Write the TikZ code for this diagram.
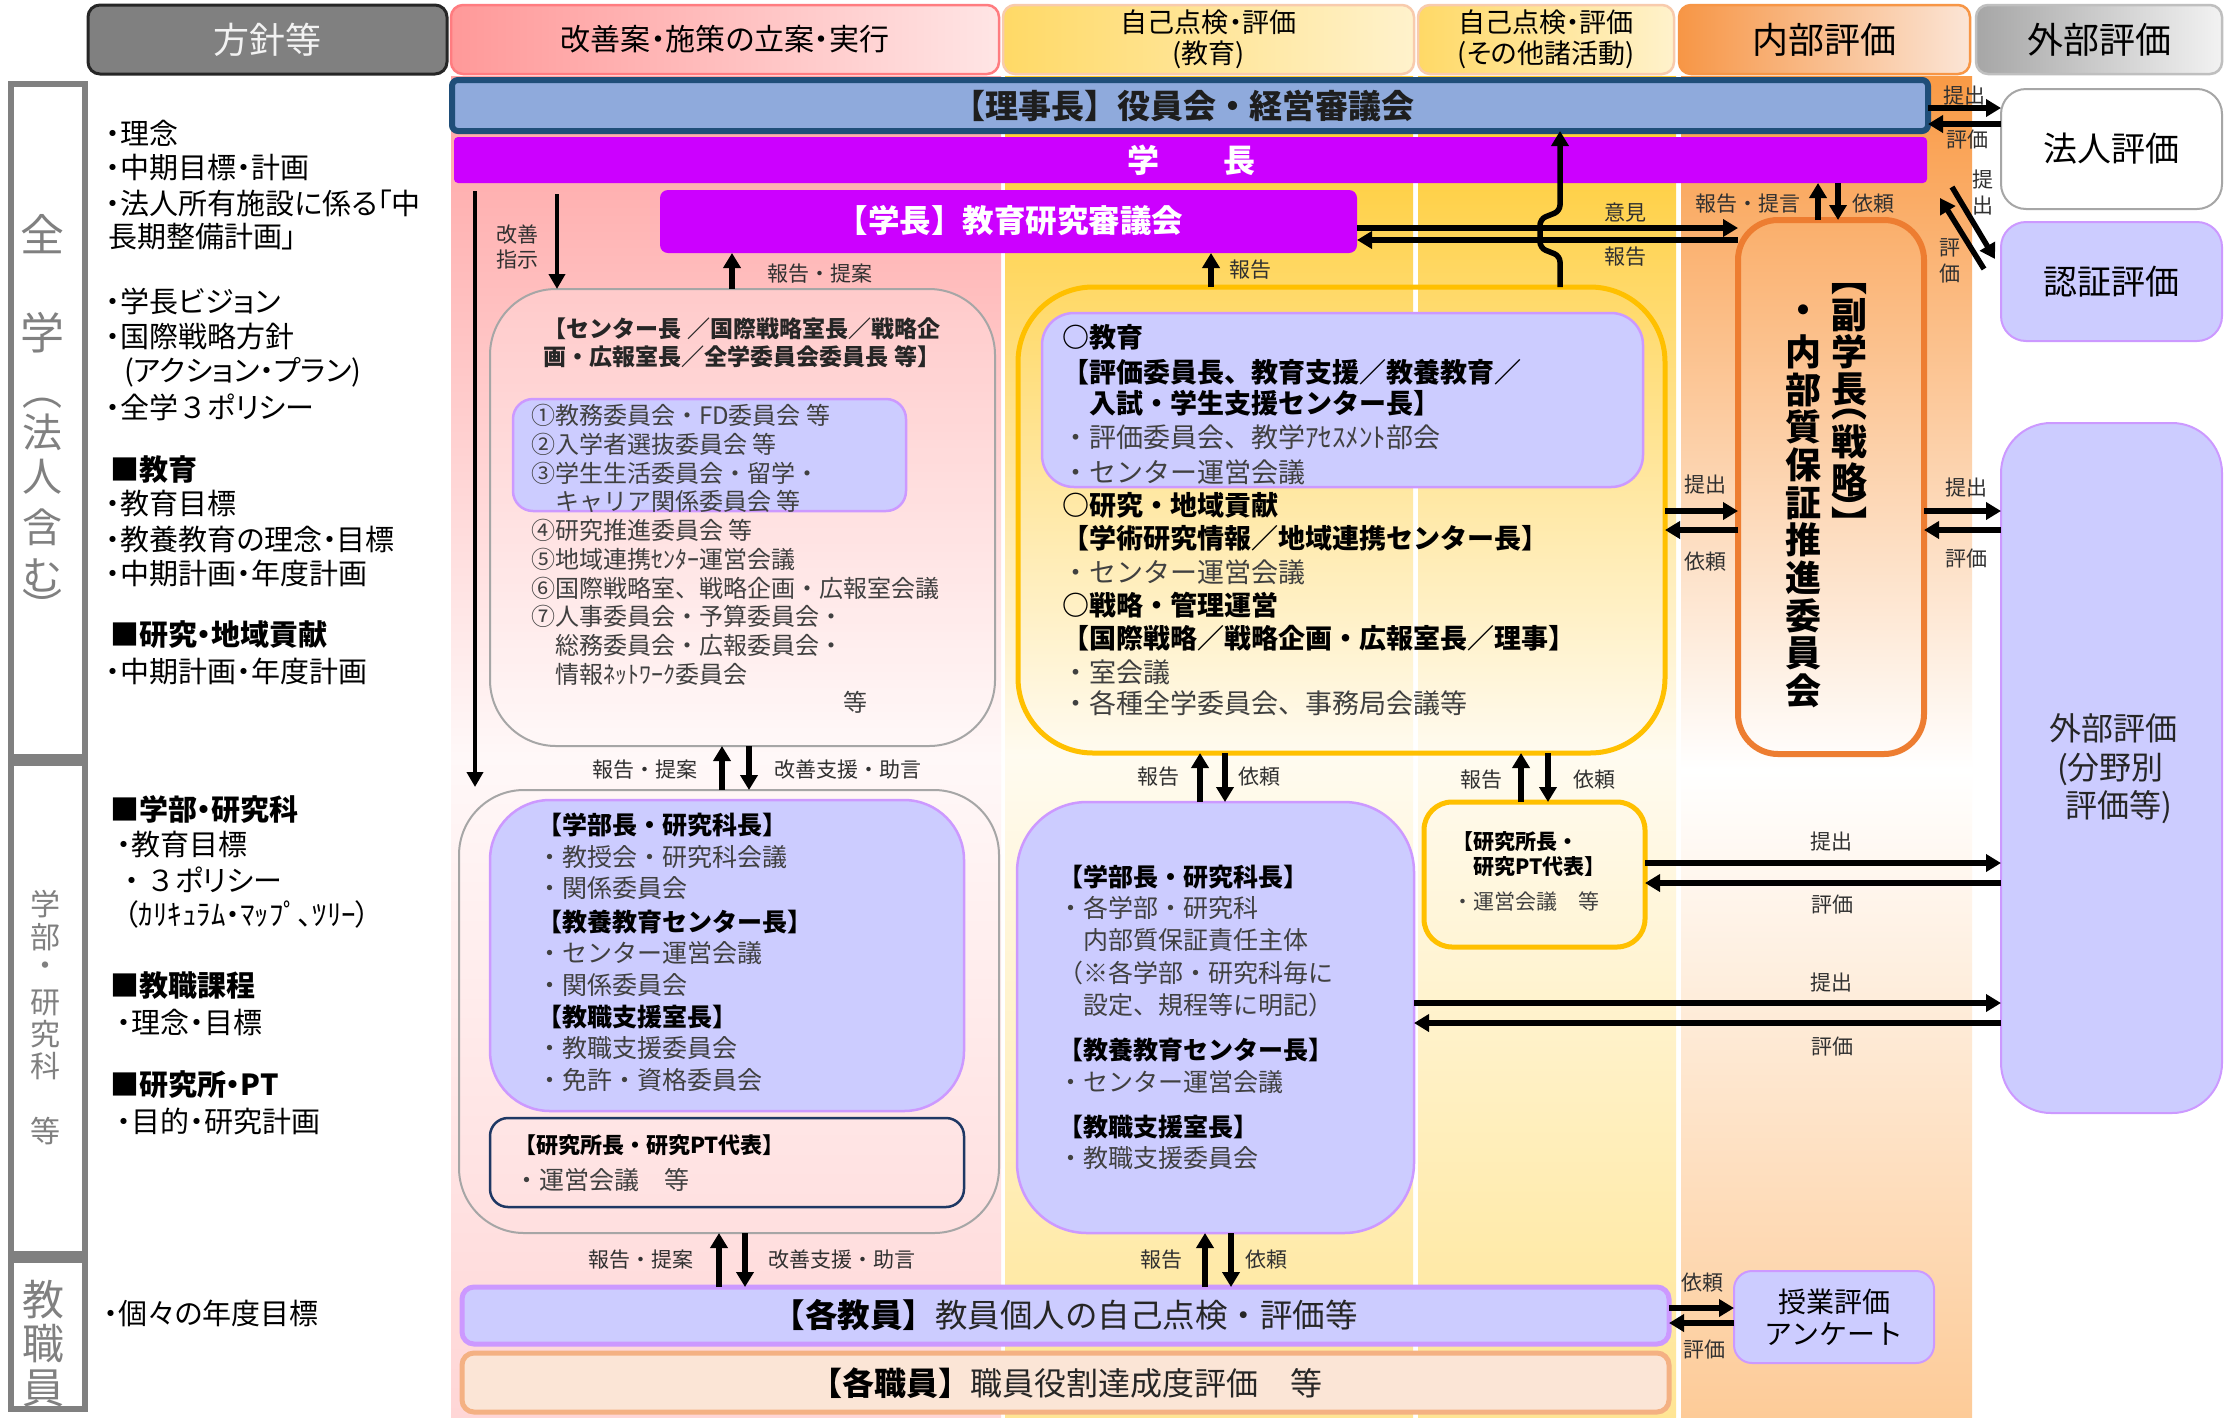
\documentclass[tikz,border=0pt]{standalone}
\usepackage{fontspec}
\setmainfont{Noto Sans CJK JP}
\newfontfamily\pfont[RawFeature=+palt]{Noto Sans CJK JP}
\usetikzlibrary{arrows.meta}
\newcommand\fsz[2]{\fontsize{#1}{#2}\selectfont}
\definecolor{purp}{HTML}{CC00FF}
\definecolor{lblue}{HTML}{CCCCFF}
\definecolor{lbord}{HTML}{CC99FF}
\definecolor{navy}{HTML}{1F4E79}
\definecolor{rijif}{HTML}{8FAADC}
\definecolor{gold}{HTML}{FFC000}
\definecolor{oran}{HTML}{ED7D31}
\definecolor{txtg}{HTML}{404040}
\definecolor{labg}{HTML}{303030}
\definecolor{sidegray}{HTML}{808080}
\definecolor{boxgray}{HTML}{A6A6A6}
\begin{document}
\begin{tikzpicture}[x=1pt,y=-1pt,
  every node/.style={inner sep=0pt, outer sep=0pt},
  bx/.style={anchor=north west, rounded corners=#1},
  bx/.default=10pt,
  arr/.style={line width=5.5pt, -{Triangle[length=15pt,width=17pt]}},
  arrthin/.style={line width=4.5pt, -{Triangle[length=15pt,width=16pt]}},
  lab/.style={font=\fsz{21}{24}, text=labg},
  ln/.style={anchor=west, text=txtg},
  lc/.style={anchor=west, text=black, font=\pfont\fsz{29}{34}},
  vt/.style={text=sidegray},
  vf/.style={text=black, font=\bfseries\fsz{36}{36}},
]
\useasboundingbox (0,0) rectangle (2224,1417);
\fill[white] (0,0) rectangle (2224,1417);

% ---------- column backgrounds ----------
\shade[top color={rgb,255:red,255;green,163;blue,163}, bottom color={rgb,255:red,255;green,248;blue,248}] (451,76) rectangle (1001,755);
\shade[top color={rgb,255:red,255;green,248;blue,248}, bottom color={rgb,255:red,255;green,214;blue,214}] (451,755) rectangle (1001,1417);
\shade[top color={rgb,255:red,255;green,201;blue,41}, bottom color={rgb,255:red,255;green,251;blue,240}] (1005,76) rectangle (1413,755);
\shade[top color={rgb,255:red,255;green,251;blue,240}, bottom color={rgb,255:red,255;green,229;blue,148}] (1005,755) rectangle (1413,1417);
\shade[top color={rgb,255:red,255;green,201;blue,41}, bottom color={rgb,255:red,255;green,251;blue,240}] (1418,76) rectangle (1676,755);
\shade[top color={rgb,255:red,255;green,251;blue,240}, bottom color={rgb,255:red,255;green,229;blue,148}] (1418,755) rectangle (1676,1417);
\shade[top color={rgb,255:red,249;green,154;blue,69}, bottom color=white] (1681,76) rectangle (1972,770);
\shade[top color=white, bottom color={rgb,255:red,253;green,203;blue,152}] (1681,770) rectangle (1972,1417);

% ---------- headers ----------
\node[bx=12pt, minimum width=359pt, minimum height=69pt, fill=sidegray, draw={rgb,255:red,38;green,38;blue,38}, line width=3pt, text={rgb,255:red,242;green,242;blue,242}, font=\pfont\fsz{36}{40}] (h1) at (88,5) {方針等};
\node[bx=12pt, minimum width=548pt, minimum height=69pt, left color={rgb,255:red,255;green,153;blue,153}, right color={rgb,255:red,255;green,229;blue,229}, draw={rgb,255:red,255;green,124;blue,128}, line width=2.5pt, font=\pfont\fsz{30}{34}] (h2) at (451,5) {改善案・施策の立案・実行};
\node[bx=12pt, minimum width=411pt, minimum height=69pt, left color={rgb,255:red,255;green,217;blue,102}, right color={rgb,255:red,255;green,242;blue,204}, draw={rgb,255:red,248;green,203;blue,173}, line width=2.5pt, align=center, font=\pfont\fsz{27}{31}] (h3) at (1003,5) {自己点検・評価\\(教育)};
\node[bx=12pt, minimum width=256pt, minimum height=69pt, left color={rgb,255:red,255;green,217;blue,102}, right color={rgb,255:red,255;green,242;blue,204}, draw={rgb,255:red,248;green,203;blue,173}, line width=2.5pt, align=center, font=\pfont\fsz{27}{31}] (h4) at (1418,5) {自己点検・評価\\(その他諸活動)};
\node[bx=12pt, minimum width=291pt, minimum height=69pt, left color={rgb,255:red,247;green,150;blue,70}, right color={rgb,255:red,251;green,229;blue,214}, draw={rgb,255:red,247;green,150;blue,70}, line width=2.5pt, font=\pfont\fsz{36}{40}] (h5) at (1679,5) {内部評価};
\node[bx=12pt, minimum width=246pt, minimum height=69pt, left color=boxgray, right color={rgb,255:red,242;green,242;blue,242}, draw={rgb,255:red,191;green,191;blue,191}, line width=2.5pt, font=\pfont\fsz{36}{40}] (h6) at (1976,5) {外部評価};

% ---------- side boxes ----------
\node[bx=0pt, minimum width=74pt, minimum height=673pt, draw=sidegray, line width=6pt] (sb1) at (11,84) {};
\node[bx=0pt, minimum width=74pt, minimum height=491pt, draw=sidegray, line width=6pt] (sb2) at (11,763) {};
\node[bx=0pt, minimum width=74pt, minimum height=149pt, draw=sidegray, line width=6pt] (sb3) at (11,1260) {};
\foreach \yy/\ch/\sz [count=\i] in {234/全/44, 333/学/44, 403/︵/40, 432/法/40, 477/人/40, 527/含/40, 575/む/40, 606/︶/40}
  \node[vt, font=\fsz{\sz}{\sz}] (va\i) at (42,\yy) {\ch};
\foreach \yy/\ch [count=\i] in {904/学, 937/部, 969/・, 1003/研, 1034/究, 1066/科, 1131/等}
  \node[vt, font=\fsz{30}{30}] (vb\i) at (45,\yy) {\ch};
\foreach \yy/\ch [count=\i] in {1300/教, 1344/職, 1388/員}
  \node[vt, font=\fsz{42}{42}] (vc\i) at (43,\yy) {\ch};

% ---------- left policy column ----------
\foreach \xx/\yy/\tx [count=\i] in {
  106/133/{・理念}, 106/168/{・中期目標・計画}, 106/203/{・法人所有施設に係る「中},
  108/237/{長期整備計画」}, 106/301/{・学長ビジョン}, 106/336/{・国際戦略方針},
  124/372/{(アクション・プラン)}, 106/407/{・全学{\rmfamily ３}ポリシー},
  110/470/{\bfseries ■教育}, 106/503/{・教育目標}, 106/539/{・教養教育の理念・目標},
  106/573/{・中期計画・年度計画}, 110/635/{\bfseries ■研究・地域貢献},
  106/671/{・中期計画・年度計画}, 110/810/{\bfseries ■学部・研究科},
  117/844/{・教育目標}, 117/880/{{\rmfamily ・３}ポリシー}, 124/914/{（ｶﾘｷｭﾗﾑ・ﾏｯﾌﾟ、ﾂﾘｰ）},
  110/986/{\bfseries ■教職課程}, 117/1022/{・理念・目標}, 110/1085/{\bfseries ■研究所・PT},
  117/1121/{・目的・研究計画}, 104/1313/{・個々の年度目標}}
  \node[lc] (lc\i) at (\xx,\yy) {\tx};

% ---------- bars ----------
\node[bx=6pt, minimum width=1476pt, minimum height=51pt, fill=rijif, draw=navy, line width=6pt] (riji) at (452,80) {};
\node[font=\bfseries\fsz{33}{36}, text={rgb,255:red,30;green,30;blue,30}] (rijit) at (1183,106) {【理事長】役員会・経営審議会};
\node[bx=4pt, minimum width=1473pt, minimum height=46pt, fill=purp] (gakucho) at (454,137) {};
\node[font=\bfseries\fsz{32}{36}, text=white] (gakuchot) at (1191,160) {学　　長};
\node[bx=8pt, minimum width=697pt, minimum height=63pt, fill=purp] (council) at (660,190) {};
\node[font=\bfseries\fsz{31.5}{36}, text=white] (councilt) at (1010,221) {【学長】教育研究審議会};

% ---------- centre-left (all-campus) box ----------
\node[bx=66pt, minimum width=505pt, minimum height=457pt, draw=boxgray, line width=2pt, fill=white, fill opacity=0.2] (zen) at (490,289) {};
\node[font=\bfseries\fsz{23}{28}, text={rgb,255:red,38;green,38;blue,38}, align=center] (zenh) at (742,343) {【センター長 ／国際戦略室長／戦略企\\画・広報室長／全学委員会委員長 等】};
\node[bx=20pt, minimum width=393pt, minimum height=112pt, fill=lblue, draw=lbord, line width=2.5pt] (zenblue) at (513,399) {};
\foreach \yy/\tx [count=\i] in {415/{①教務委員会・FD委員会 等}, 444/{②入学者選抜委員会 等},
  473/{③学生生活委員会・留学・}, 501/{　キャリア関係委員会 等}, 530/{④研究推進委員会 等},
  559/{⑤地域連携ｾﾝﾀｰ運営会議}, 588/{⑥国際戦略室、戦略企画・広報室会議},
  616/{⑦人事委員会・予算委員会・}, 645/{　総務委員会・広報委員会・}, 674/{　情報ﾈｯﾄﾜｰｸ委員会}}
  \node[ln, font=\fsz{24}{28}] (zl\i) at (531,\yy) {\tx};
\node[text=txtg, font=\fsz{24}{28}] (zetc) at (855,702) {等};

% ---------- yellow (education) box ----------
\node[bx=75pt, minimum width=647pt, minimum height=466pt, draw=gold, line width=5pt] (edu) at (1018,287) {};
\node[bx=32pt, minimum width=601pt, minimum height=174pt, fill=lblue, draw=lbord, line width=2.5pt] (edublue) at (1042,313) {};
\foreach \yy/\tx [count=\i] in {337/{\bfseries\color{black}○教育},
  372/{\bfseries\color{black}【評価委員長、教育支援／教養教育／},
  403/{\bfseries\color{black}　入試・学生支援センター長】},
  437/{・評価委員会、教学ｱｾｽﾒﾝﾄ部会}, 472/{・センター運営会議},
  505/{\bfseries\color{black}○研究・地域貢献},
  538/{\bfseries\color{black}【学術研究情報／地域連携センター長】},
  572/{・センター運営会議},
  605/{\bfseries\color{black}○戦略・管理運営},
  638/{\bfseries\color{black}【国際戦略／戦略企画・広報室長／理事】},
  672/{・室会議}, 703/{・各種全学委員会、事務局会議等}}
  \node[ln, font=\fsz{27}{32}] (el\i) at (1062,\yy) {\tx};

% ---------- vice-president box ----------
\node[bx=40pt, minimum width=186pt, minimum height=534pt, draw=oran, line width=6pt] (fuku) at (1738,220) {};
\foreach \yy/\ch [count=\i] in {289/︻, 315/副, 352/学, 389/長, 415/︵, 442/戦, 480/略, 506/︶, 522/︼}
  \node[vf] (fa\i) at (1849,\yy) {\ch};
\foreach \yy/\ch [count=\i] in {314/・, 352/内, 390/部, 427/質, 465/保, 503/証, 540/推, 578/進, 616/委, 653/員, 691/会}
  \node[vf] (fb\i) at (1803,\yy) {\ch};

% ---------- lower-left faculty box ----------
\node[bx=65pt, minimum width=540pt, minimum height=443pt, draw=boxgray, line width=2pt] (bukyoku) at (459,790) {};
\node[bx=60pt, minimum width=474pt, minimum height=311pt, fill=lblue, draw=lbord, line width=2.5pt] (bublue) at (490,800) {};
\foreach \yy/\tx [count=\i] in {825/{\bfseries\color{black}【学部長・研究科長】}, 857/{・教授会・研究科会議},
  888/{・関係委員会}, 922/{\bfseries\color{black}【教養教育センター長】}, 953/{・センター運営会議},
  985/{・関係委員会}, 1017/{\bfseries\color{black}【教職支援室長】}, 1048/{・教職支援委員会},
  1080/{・免許・資格委員会}}
  \node[ln, font=\fsz{25}{30}] (bl\i) at (537,\yy) {\tx};
\node[bx=18pt, minimum width=474pt, minimum height=89pt, draw={rgb,255:red,31;green,56;blue,100}, line width=2.5pt] (bures) at (490,1118) {};
\node[ln, font=\bfseries\fsz{22}{26}, text=black] (br1) at (514,1145) {【研究所長・研究PT代表】};
\node[ln, font=\fsz{25}{30}] (br2) at (514,1180) {・運営会議　等};

% ---------- centre faculty box ----------
\node[bx=70pt, minimum width=397pt, minimum height=431pt, fill=lblue, draw=lbord, line width=2.5pt] (cblue) at (1017,802) {};
\foreach \yy/\tx [count=\i] in {877/{\bfseries\color{black}【学部長・研究科長】}, 908/{・各学部・研究科},
  940/{　内部質保証責任主体}, 973/{（※各学部・研究科毎に}, 1005/{　設定、規程等に明記）},
  1050/{\bfseries\color{black}【教養教育センター長】}, 1082/{・センター運営会議},
  1127/{\bfseries\color{black}【教職支援室長】}, 1158/{・教職支援委員会}}
  \node[ln, font=\fsz{25}{30}] (cl\i) at (1058,\yy) {\tx};

% ---------- institute box (other activities) ----------
\node[bx=28pt, minimum width=221pt, minimum height=145pt, draw=gold, line width=5pt] (cres) at (1424,802) {};
\node[ln, font=\bfseries\fsz{21}{25}, text=black] (cr1) at (1452,842) {【研究所長・};
\node[ln, font=\bfseries\fsz{21}{25}, text=black] (cr2) at (1452,867) {　研究PT代表】};
\node[ln, font=\fsz{21}{25}] (cr3) at (1452,902) {・運営会議　等};

% ---------- staff bars ----------
\node[bx=12pt, minimum width=1207pt, minimum height=57pt, fill=lblue, draw=lbord, line width=5pt] (kyoin) at (462,1287) {};
\node[font=\fsz{32.5}{38}, text={rgb,255:red,38;green,38;blue,38}] (kyoint) at (1065,1315) {{\bfseries\color{black}【各教員】}教員個人の自己点検・評価等};
\node[bx=12pt, minimum width=1207pt, minimum height=59pt, fill={rgb,255:red,251;green,229;blue,214}, draw={rgb,255:red,244;green,177;blue,131}, line width=5pt] (shokuin) at (462,1353) {};
\node[font=\fsz{32}{38}, text={rgb,255:red,38;green,38;blue,38}] (shokuint) at (1066,1383) {{\bfseries\color{black}【各職員】}職員役割達成度評価　等};

% ---------- external boxes ----------
\node[bx=18pt, minimum width=200pt, minimum height=92pt, fill=lblue, draw=lbord, line width=2pt, align=center, font=\fsz{28}{32}] (jugyo) at (1734,1271) {授業評価\\アンケート};
\node[bx=25pt, minimum width=221pt, minimum height=120pt, fill=white, draw=boxgray, line width=2pt, font=\fsz{34}{38}] (hojin) at (2001,89) {法人評価};
\node[bx=25pt, minimum width=221pt, minimum height=119pt, fill=lblue, draw=lbord, line width=2pt, font=\fsz{34}{38}] (ninsho) at (2001,222) {認証評価};
\node[bx=50pt, minimum width=221pt, minimum height=690pt, fill=lblue, draw=lbord, line width=2pt] (gaibu) at (2001,423) {};
\node[align=left, font=\fsz{32}{38.5}, text={rgb,255:red,38;green,38;blue,38}] (gaibut) at (2113,769) {外部評価\\\hspace{8pt}(分野別\\\hspace{16pt}評価等)};

% ---------- helper coordinates ----------
\foreach \n/\v in {xa/732, xb/1211, xc/1560, xd/1818, xe/1838, xf/722, xg/749, xh/719, xi/745,
  xj/1200, xk/1225, xl/1521, xm/1548, xn/1205, xo/1231, xp/557}
  \coordinate (\n) at (\v,0);
\foreach \n/\v in {yi/228, yh/240, yA/511, yB/530, yC/108, yD/124, yE/863, yF/883, yG/1003, yH/1023, yI/1308, yJ/1323}
  \coordinate (\n) at (0,\v);
\coordinate (la1) at (475,191);
\coordinate (la2) at (475,787);
\coordinate (kz1) at (557,194);
\coordinate (d1) at (1952,187);
\coordinate (d2) at (1995,259);
\coordinate (d3) at (1984,269);
\coordinate (d4) at (1940,198);

% ---------- arrows ----------
\draw[arrthin] (la1) -- (la2);
\draw[arrthin] (kz1) -- (zen.north -| xp);
\draw[arr] (zen.north -| xa) -- (council.south -| xa);
\draw[arr] (edu.north -| xb) -- (council.south -| xb);
\draw[arr, rounded corners=6pt] (edu.north -| xc) -- (1560,256) -- (1540,248) -- (1540,219) -- (1560,211) -- (riji.south -| xc);
\draw[arr] (council.east |- yi) -- (fuku.west |- yi);
\draw[arr] (fuku.west |- yh) -- (council.east |- yh);
\draw[arr] (fuku.north -| xd) -- (gakucho.south -| xd);
\draw[arr] (gakucho.south -| xe) -- (fuku.north -| xe);
\draw[arr] (edu.east |- yA) -- (fuku.west |- yA);
\draw[arr] (fuku.west |- yB) -- (edu.east |- yB);
\draw[arr] (fuku.east |- yA) -- (gaibu.west |- yA);
\draw[arr] (gaibu.west |- yB) -- (fuku.east |- yB);
\draw[arr] (riji.east |- yC) -- (hojin.west |- yC);
\draw[arr] (hojin.west |- yD) -- (riji.east |- yD);
\draw[arr] (d1) -- (d2);
\draw[arr] (d3) -- (d4);
\draw[arr] (bukyoku.north -| xf) -- (zen.south -| xf);
\draw[arr] (zen.south -| xg) -- (bukyoku.north -| xg);
\draw[arr] (kyoin.north -| xh) -- (bukyoku.south -| xh);
\draw[arr] (bukyoku.south -| xi) -- (kyoin.north -| xi);
\draw[arr] (cblue.north -| xj) -- (edu.south -| xj);
\draw[arr] (edu.south -| xk) -- (cblue.north -| xk);
\draw[arr] (cres.north -| xl) -- (edu.south -| xl);
\draw[arr] (edu.south -| xm) -- (cres.north -| xm);
\draw[arr] (kyoin.north -| xn) -- (cblue.south -| xn);
\draw[arr] (cblue.south -| xo) -- (kyoin.north -| xo);
\draw[arr] (cres.east |- yE) -- (gaibu.west |- yE);
\draw[arr] (gaibu.west |- yF) -- (cres.east |- yF);
\draw[arr] (cblue.east |- yG) -- (gaibu.west |- yG);
\draw[arr] (gaibu.west |- yH) -- (cblue.east |- yH);
\draw[arr] (kyoin.east |- yI) -- (jugyo.west |- yI);
\draw[arr] (jugyo.west |- yJ) -- (kyoin.east |- yJ);

% ---------- arrow labels ----------
\node[lab] (t1) at (517,235) {改善};
\node[lab] (t2) at (517,260) {指示};
\node[lab] (t3) at (820,274) {報告・提案};
\node[lab] (t4) at (1250,270) {報告};
\node[lab] (t5) at (1625,213) {意見};
\node[lab] (t6) at (1625,257) {報告};
\node[lab] (t7) at (1748,204) {報告・提言};
\node[lab] (t8) at (1873,204) {依頼};
\node[lab] (t9) at (1705,485) {提出};
\node[lab] (t10) at (1705,562) {依頼};
\node[lab] (t11) at (1966,488) {提出};
\node[lab] (t12) at (1966,559) {評価};
\node[lab] (t13) at (1964,96) {提出};
\node[lab] (t14) at (1967,140) {評価};
\node[lab] (t15) at (1983,180) {提};
\node[lab] (t16) at (1983,206) {出};
\node[lab] (t17) at (1950,248) {評};
\node[lab] (t18) at (1950,274) {価};
\node[lab] (t19) at (645,770) {報告・提案};
\node[lab] (t20) at (848,770) {改善支援・助言};
\node[lab] (t21) at (1158,777) {報告};
\node[lab] (t22) at (1259,777) {依頼};
\node[lab] (t23) at (1481,780) {報告};
\node[lab] (t24) at (1594,780) {依頼};
\node[lab] (t25) at (1831,842) {提出};
\node[lab] (t26) at (1832,905) {評価};
\node[lab] (t27) at (1831,983) {提出};
\node[lab] (t28) at (1832,1047) {評価};
\node[lab] (t29) at (641,1260) {報告・提案};
\node[lab] (t30) at (842,1260) {改善支援・助言};
\node[lab] (t31) at (1161,1260) {報告};
\node[lab] (t32) at (1266,1260) {依頼};
\node[lab] (t33) at (1702,1283) {依頼};
\node[lab] (t34) at (1704,1350) {評価};
\end{tikzpicture}
\end{document}
